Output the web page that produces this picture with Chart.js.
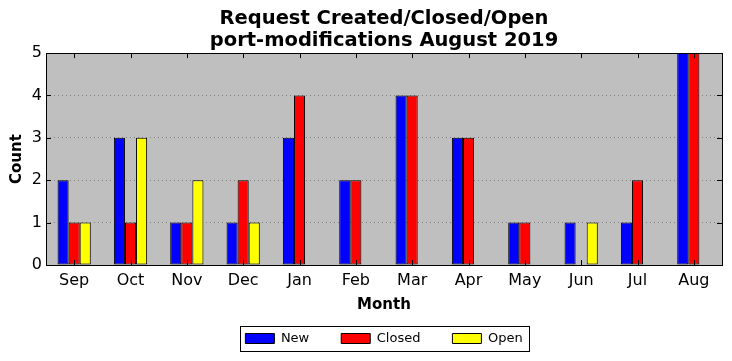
<!DOCTYPE html>
<html>
<head>
<meta charset="utf-8">
<script src="https://cdn.jsdelivr.net/npm/chart.js@4.4.0/dist/chart.umd.min.js"></script>
<style>
  html, body { margin: 0; padding: 0; background: #fff; }
  #wrap { width: 732px; height: 361px; }
</style>
</head>
<body>
<div id="wrap"><canvas id="grafico" width="732" height="361"></canvas></div>
<script>
// Datos
const meses = ['Sep', 'Oct', 'Nov', 'Dec', 'Jan', 'Feb', 'Mar', 'Apr', 'May', 'Jun', 'Jul', 'Aug'];
const nuevos = [2, 3, 1, 1, 3, 2, 4, 3, 1, 1, 1, 5];
const cerrados = [1, 1, 1, 2, 4, 2, 4, 3, 1, 0, 2, 5];
const abiertos = [1, 3, 2, 1, 0, 0, 0, 0, 0, 1, 0, 0];
const yTicks = [0, 1, 2, 3, 4, 5];

Chart.defaults.font.family = "'DejaVu Sans', sans-serif";
Chart.defaults.color = '#000';

// Fondo gris, marco y marcas interiores (estilo matplotlib)
const marcoPlugin = {
  id: 'marco',
  beforeDraw(chart) {
    const a = chart.chartArea;
    const ctx = chart.ctx;
    ctx.save();
    ctx.fillStyle = '#bfbfbf';
    ctx.fillRect(a.left, a.top, a.right - a.left, a.bottom - a.top);
    ctx.restore();
  },
  afterLayout(chart) {
    // centrar leyenda y título sobre el área del gráfico
    const a = chart.chartArea;
    [chart.legend, chart.titleBlock].forEach(b => {
      b.left = a.left;
      b.right = a.right;
      b.width = a.right - a.left;
    });
  },
  afterDatasetsDraw(chart) {
    const a = chart.chartArea;
    const ctx = chart.ctx;
    const x = chart.scales.x;
    const y = chart.scales.y;
    ctx.save();
    ctx.strokeStyle = '#000';
    ctx.lineWidth = 1;
    ctx.beginPath();
    x.ticks.forEach((t, i) => {
      const px = Math.round(x.getPixelForTick(i)) + 0.5;
      ctx.moveTo(px, a.bottom); ctx.lineTo(px, a.bottom - 5);
      ctx.moveTo(px, a.top); ctx.lineTo(px, a.top + 5);
    });
    y.ticks.forEach((t, i) => {
      const py = Math.round(y.getPixelForTick(i)) + 0.5;
      ctx.moveTo(a.left, py); ctx.lineTo(a.left + 5, py);
      ctx.moveTo(a.right, py); ctx.lineTo(a.right - 5, py);
    });
    ctx.stroke();
    ctx.strokeRect(Math.round(a.left) + 0.5, Math.round(a.top) + 0.5,
      Math.round(a.right - a.left), Math.round(a.bottom - a.top));
    ctx.restore();
  },
  afterDraw(chart) {
    // recuadro de la leyenda
    const hb = chart.legend.legendHitBoxes;
    if (!hb || !hb.length) return;
    const first = hb[0];
    const last = hb[hb.length - 1];
    const cy = first.top + first.height / 2;
    const ctx = chart.ctx;
    ctx.save();
    ctx.strokeStyle = '#000';
    ctx.lineWidth = 1;
    const x0 = Math.round(first.left - 5) + 0.5;
    const x1 = Math.round(last.left + last.width + 6) + 0.5;
    const y0 = Math.round(cy - 12.5) + 0.5;
    ctx.strokeRect(x0, y0, x1 - x0, 25);
    ctx.restore();
  }
};

const ctx = document.getElementById('grafico');
new Chart(ctx, {
  type: 'bar',
  data: {
    labels: meses,
    datasets: [
      { label: 'New', data: nuevos, backgroundColor: '#0000ff' },
      { label: 'Closed', data: cerrados, backgroundColor: '#ff0000' },
      { label: 'Open', data: abiertos, backgroundColor: '#ffff00' }
    ]
  },
  options: {
    responsive: false,
    animation: false,
    devicePixelRatio: 1,
    layout: { padding: { left: 0, right: 10, top: 0, bottom: 6 } },
    datasets: {
      bar: {
        borderColor: '#000',
        borderWidth: 1,
        borderSkipped: false,
        categoryPercentage: 0.59,
        barPercentage: 1.0
      }
    },
    scales: {
      x: {
        grid: { display: false, drawTicks: false },
        border: { display: false },
        ticks: { font: { size: 16 }, padding: 6, maxRotation: 0 },
        title: {
          display: true,
          text: 'Month',
          font: { size: 15, weight: 'bold' },
          padding: { top: 0, bottom: -14 }
        },
        afterFit(scale) { scale.height = 35; }
      },
      y: {
        min: 0,
        max: 5,
        afterBuildTicks(scale) { scale.ticks = yTicks.map(v => ({ value: v })); },
        grid: { color: '#808080', lineWidth: 1, drawTicks: false },
        border: { display: false, dash: [1, 3] },
        ticks: { font: { size: 16 }, padding: 4 },
        title: {
          display: true,
          text: 'Count',
          font: { size: 15, weight: 'bold' },
          padding: { top: 8, bottom: 0 }
        },
        afterFit(scale) { scale.width = 46; }
      }
    },
    plugins: {
      title: {
        display: true,
        text: ['Request Created/Closed/Open', 'port-modifications August 2019'],
        font: { size: 19.5, weight: 'bold', lineHeight: 1.13 },
        color: '#000',
        padding: { top: 8, bottom: 1 }
      },
      legend: {
        position: 'bottom',
        labels: {
          boxWidth: 29,
          boxHeight: 10,
          padding: 32,
          font: { size: 13 },
          color: '#000'
        }
      },
      tooltip: { enabled: false }
    }
  },
  plugins: [marcoPlugin]
});
</script>
</body>
</html>
